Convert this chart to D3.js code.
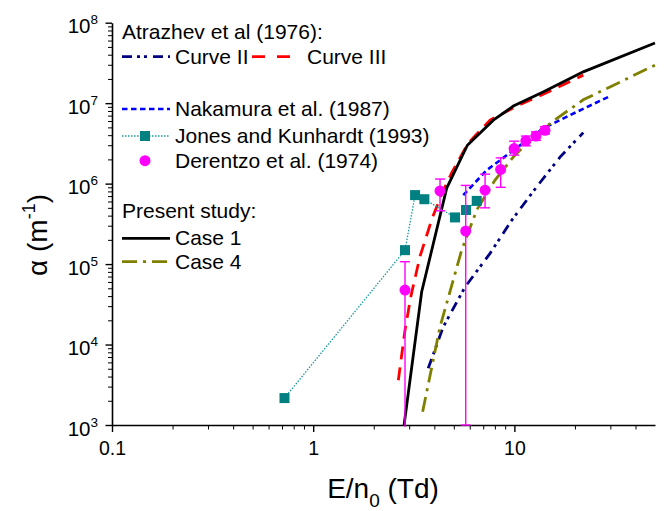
<!DOCTYPE html>
<html>
<head>
<meta charset="utf-8">
<script src="https://cdn.jsdelivr.net/npm/d3@7"></script>
<style>
  body { margin: 0; background: #fff; }
  svg { font-family: "Liberation Sans", Arial, sans-serif; }
</style>
</head>
<body>
<div id="chart-area"></div>
<script>
// Data (E/n0 in Td, alpha in 1/m)
var case1X = [2.83, 3.46, 4.61, 5.84, 7.86, 9.89, 13.9, 22.0, 50];
var case1Y = [1.0e3, 4.5e4, 8.8e5, 3.0e6, 6.15e6, 9.2e6, 1.38e7, 2.45e7, 5.6e7];

var case4X = [3.5, 4.27, 5.47, 6.5, 8.0, 9.89, 12.4, 15.6, 22, 50];
var case4Y = [1.46e3, 1.66e4, 1.49e5, 4.7e5, 1.1e6, 2.15e6, 3.8e6, 6.0e6, 1.1e7, 2.97e7];

var curve2X = [3.73, 4.43, 5.69, 7.57, 9.7, 12.9, 16.9, 22];
var curve2Y = [5.06e3, 1.66e4, 5.2e4, 1.36e5, 3.5e5, 9.1e5, 2.15e6, 4.3e6];

var curve3X = [2.65, 2.86, 3.06, 3.40, 3.90, 4.37, 4.90, 5.89, 7.57, 10.3, 15.0, 22.0];
var curve3Y = [3.6e3, 1.51e4, 4.0e4, 1.26e5, 3.7e5, 7.6e5, 1.39e6, 3.18e6, 6.15e6, 9.2e6, 1.41e7, 2.23e7];

var nakamuraX = [5.57, 7.29, 9.89, 13.9, 18.9, 29.4];
var nakamuraY = [7.2e5, 1.47e6, 2.6e6, 4.85e6, 7.1e6, 1.2e7];

var jonesX = [0.72, 2.86, 3.21, 3.57, 5.07, 5.75, 6.5];
var jonesY = [2.16e3, 1.49e5, 7.2e5, 6.4e5, 3.8e5, 4.7e5, 6.1e5];

var derentzoX  = [2.86, 4.27, 5.73, 7.15, 8.55, 9.97, 11.4, 12.8, 14.2];
var derentzoY  = [4.75e4, 8.1e5, 2.57e5, 8.3e5, 1.5e6, 2.73e6, 3.4e6, 3.9e6, 4.6e6];
var derentzoHi = [1.07e5, 1.14e6, 9.5e5, 1.31e6, 2.09e6, 3.37e6, 3.9e6, 4.4e6, 5.1e6];
var derentzoLo = [5.0e2, 4.6e5, 1.0e3, 5.0e5, 9.0e5, 2.26e6, 2.95e6, 3.45e6, 4.15e6];

var xTicks = [0.1, 1, 10];
var yTicks = [1e3, 1e4, 1e5, 1e6, 1e7, 1e8];

var width = 664, height = 511;

var svg = d3.select("#chart-area")
	.append("svg")
	.attr("width", width)
	.attr("height", height);

// Scales
var x = d3.scaleLog()
	.domain([0.1, 50])
	.range([112, 655]);

var y = d3.scaleLog()
	.domain([1e3, 1e8])
	.range([425, 22.7]);

function minors(lo, hi) {
	var out = [];
	for (var p = Math.floor(Math.log10(lo)); p <= Math.ceil(Math.log10(hi)); p++) {
		for (var k = 2; k <= 9; k++) {
			var v = k * Math.pow(10, p);
			if (v > lo && v < hi) out.push(v);
		}
	}
	return out;
}

// X Axis (minor, then major)
svg.append("g")
	.attr("transform", "translate(0," + 425 + ")")
	.call(d3.axisBottom(x).tickValues(minors(0.1, 50)).tickSize(4.5).tickSizeOuter(0).tickFormat(""))
	.call(function (g) { g.select(".domain").remove(); });

var xAxisG = svg.append("g")
	.attr("transform", "translate(0," + 425 + ")")
	.call(d3.axisBottom(x).tickValues(xTicks).tickSize(7).tickSizeOuter(0).tickFormat(function (d) { return d; }));

xAxisG.select(".domain").attr("stroke-width", 1.6);
xAxisG.selectAll(".tick line").attr("stroke-width", 1.4);
xAxisG.selectAll(".tick text")
	.attr("y", 30)
	.attr("dy", 0)
	.attr("font-size", "19.5px")
	.attr("fill", "#000");

// Y Axis
svg.append("g")
	.attr("transform", "translate(112,0)")
	.call(d3.axisLeft(y).tickValues(minors(1e3, 1e8)).tickSize(4).tickSizeOuter(0).tickFormat(""))
	.call(function (g) { g.select(".domain").remove(); });

var yAxisG = svg.append("g")
	.attr("transform", "translate(112,0)")
	.call(d3.axisLeft(y).tickValues(yTicks).tickSize(6.5).tickSizeOuter(0).tickFormat(""));

yAxisG.select(".domain").attr("stroke-width", 1.6);
yAxisG.selectAll(".tick line").attr("stroke-width", 1.4);
yAxisG.selectAll(".tick text").remove();
yAxisG.selectAll(".tick").append("text")
	.attr("x", -14)
	.attr("y", 10)
	.attr("text-anchor", "end")
	.attr("fill", "#000")
	.attr("font-size", "20.5px")
	.each(function (d) {
		var t = d3.select(this);
		t.append("tspan").text("10");
		t.append("tspan")
			.attr("dy", -9)
			.attr("font-size", "13.5px")
			.text(Math.round(Math.log10(d)));
	});

// Axis titles
var xLabel = svg.append("text")
	.attr("x", 383)
	.attr("y", 498)
	.attr("text-anchor", "middle")
	.attr("font-size", "28px");
xLabel.append("tspan").text("E/n");
xLabel.append("tspan").attr("dy", 9).attr("font-size", "19px").text("0");
xLabel.append("tspan").attr("dy", -9).text(" (Td)");

var yLabel = svg.append("text")
	.attr("transform", "translate(47,235) rotate(-90)")
	.attr("text-anchor", "middle")
	.attr("font-size", "28px");
yLabel.append("tspan").text("\u03b1 (m");
yLabel.append("tspan").attr("dy", -12).attr("font-size", "18px").text("-1");
yLabel.append("tspan").attr("dy", 12).text(")");

// Clip
svg.append("clipPath")
	.attr("id", "plot-clip")
	.append("rect")
	.attr("x", 112).attr("y", 15)
	.attr("width", 548).attr("height", 412);

var plots = svg.append("g").attr("clip-path", "url(#plot-clip)");

var line = d3.line()
	.x(function (d) { return x(d[0]); })
	.y(function (d) { return y(d[1]); });

function zip(xs, ys) { return xs.map(function (v, i) { return [v, ys[i]]; }); }

var series = [
	{ xs: curve2X, ys: curve2Y, color: "#000080", width: 2.8, dash: "10,5,3,4,3,6" },
	{ xs: nakamuraX, ys: nakamuraY, color: "#0000ff", width: 2.6, dash: "5.5,3.5" },
	{ xs: case4X, ys: case4Y, color: "#808000", width: 2.8, dash: "15,6,3,6" },
	{ xs: curve3X, ys: curve3Y, color: "#ff0000", width: 2.8, dash: "13,8" },
	{ xs: case1X, ys: case1Y, color: "#000000", width: 2.8, dash: null }
];

plots.selectAll("path.curve")
	.data(series)
	.enter()
	.append("path")
	.attr("class", "curve")
	.attr("fill", "none")
	.attr("stroke", function (d) { return d.color; })
	.attr("stroke-width", function (d) { return d.width; })
	.attr("stroke-dasharray", function (d) { return d.dash; })
	.attr("d", function (d) { return line(zip(d.xs, d.ys)); });

// Jones and Kunhardt
var jones = zip(jonesX, jonesY);
plots.append("path")
	.attr("fill", "none")
	.attr("stroke", "#1a9a9a")
	.attr("stroke-width", 1.3)
	.attr("stroke-dasharray", "1.5,1.5")
	.attr("d", line(jones));

plots.selectAll("rect.jones")
	.data(jones)
	.enter()
	.append("rect")
	.attr("class", "jones")
	.attr("x", function (d) { return x(d[0]) - 5; })
	.attr("y", function (d) { return y(d[1]) - 5; })
	.attr("width", 10)
	.attr("height", 10)
	.attr("fill", "#008080");

// Derentzo et al. with error bars
var der = derentzoX.map(function (v, i) {
	return { x: v, y: derentzoY[i], hi: derentzoHi[i], lo: derentzoLo[i] };
});

var errs = plots.selectAll("g.err")
	.data(der)
	.enter()
	.append("g")
	.attr("class", "err")
	.attr("stroke", "#ff00ff")
	.attr("stroke-width", 1.4);

errs.append("line")
	.attr("x1", function (d) { return x(d.x); })
	.attr("x2", function (d) { return x(d.x); })
	.attr("y1", function (d) { return y(d.hi); })
	.attr("y2", function (d) { return y(d.lo); });
errs.append("line")
	.attr("x1", function (d) { return x(d.x) - 5; })
	.attr("x2", function (d) { return x(d.x) + 5; })
	.attr("y1", function (d) { return y(d.hi); })
	.attr("y2", function (d) { return y(d.hi); });
errs.append("line")
	.attr("x1", function (d) { return x(d.x) - 5; })
	.attr("x2", function (d) { return x(d.x) + 5; })
	.attr("y1", function (d) { return y(d.lo); })
	.attr("y2", function (d) { return y(d.lo); });

plots.selectAll("circle.der")
	.data(der)
	.enter()
	.append("circle")
	.attr("class", "der")
	.attr("cx", function (d) { return x(d.x); })
	.attr("cy", function (d) { return y(d.y); })
	.attr("r", 5.5)
	.attr("fill", "#ff00ff");

// Legend
var legend = svg.append("g").attr("class", "legend").attr("font-size", "21px");

function legLine(x1, x2, yy, color, w, dash) {
	legend.append("line")
		.attr("x1", x1).attr("x2", x2)
		.attr("y1", yy).attr("y2", yy)
		.attr("stroke", color)
		.attr("stroke-width", w)
		.attr("stroke-dasharray", dash);
}
function legText(xx, yy, s) {
	legend.append("text").attr("x", xx).attr("y", yy + 7).text(s);
}

legText(122, 32, "Atrazhev et al (1976):");
legLine(122, 170, 56.7, "#000080", 2.8, "10,5,3,4,3,6");
legText(175, 56.7, "Curve II");
legLine(252, 290, 56.7, "#ff0000", 2.8, "13,12");
legText(307, 56.7, "Curve III");

legLine(122, 170, 109, "#0000ff", 2.6, "5.5,3.5");
legText(175, 109, "Nakamura et al. (1987)");

legLine(122, 170, 136, "#1a9a9a", 1.3, "1.5,1.5");
legend.append("rect").attr("x", 140).attr("y", 131).attr("width", 10).attr("height", 10).attr("fill", "#008080");
legText(175, 136, "Jones and Kunhardt (1993)");

legend.append("circle").attr("cx", 145).attr("cy", 160.7).attr("r", 5.5).attr("fill", "#ff00ff");
legText(175, 160.7, "Derentzo et al. (1974)");

legText(122, 211, "Present study:");
legLine(122, 170, 238.3, "#000000", 2.8, null);
legText(175, 238.3, "Case 1");
legLine(122, 170, 261.7, "#808000", 2.8, "15,6,3,6");
legText(175, 261.7, "Case 4");
</script>
</body>
</html>
